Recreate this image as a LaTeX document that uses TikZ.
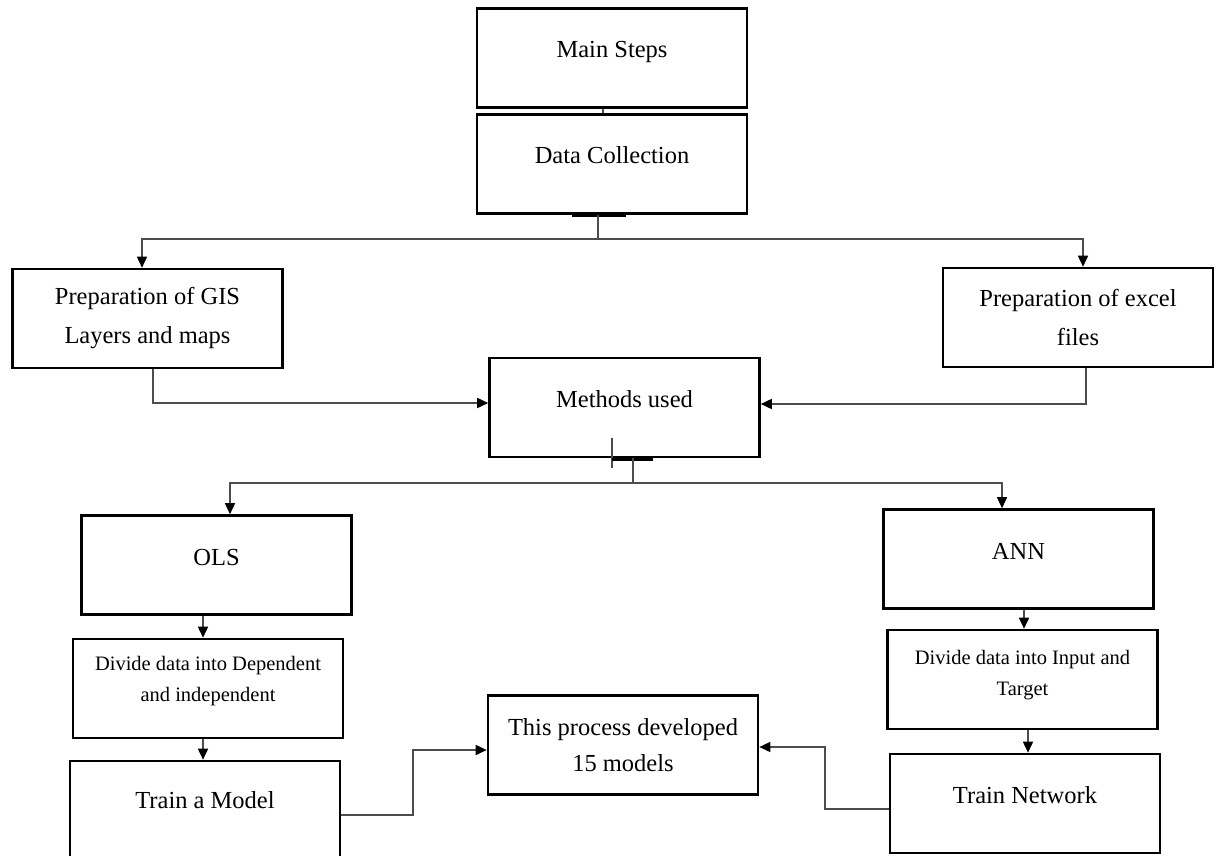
\documentclass[tikz,border=0pt]{standalone}
\usepackage{fontspec}
\setmainfont{Liberation Serif}
\usetikzlibrary{arrows.meta}
\begin{document}
\begin{tikzpicture}[x=0.5pt,y=-0.5pt,
  box/.style={draw=black, line width=1.3pt, minimum width=135pt, minimum height=49.5pt,
    inner sep=0pt, align=center, font=\fontsize{12.25}{19.5}\selectfont},
  oneline/.style={text height=9pt, text depth=9pt},
  small/.style={font=\fontsize{10.25}{15.5}\selectfont},
  conn/.style={draw=black!70, line width=0.8pt},
  arr/.style={conn, -{Triangle[length=5.5pt,width=5pt,color=black]}},
  tick/.style={draw=black, line width=1.4pt},
]
\useasboundingbox (0,0) rectangle (1218,855);
\fill[white] (0,0) rectangle (1218,855);

% boxes
\node[box,oneline] (ms) at (612,58) {Main Steps};
\node[box,oneline] (dc) at (612,164) {Data Collection};
\node[box] (gis) at (147.5,318.5) {Preparation of GIS\\Layers and maps};
\node[box] (xl) at (1078,317.5) {Preparation of excel\\files};
\node[box,oneline] (mu) at (624.5,407.5) {Methods used};
\node[box,oneline] (ols) at (216.5,565) {OLS};
\node[box,oneline] (ann) at (1018.5,559) {ANN};
\node[box,small,text depth=9.5pt] (dol) at (208,688.5) {Divide data into Dependent\\and independent};
\node[box,small,text depth=7pt] (dan) at (1022.5,679.5) {Divide data into Input and\\Target};
\node[box,oneline,text depth=11.5pt] (tam) at (205,810.5) {Train a Model};
\node[box,oneline] (tnw) at (1025,803.5) {Train Network};
\node[box,font=\fontsize{12.25}{18}\selectfont] (tp) at (623,745) {This process developed\\15 models};

% top connectors
\draw[conn] ([xshift=-4.5pt]ms.south) -- ([xshift=-4.5pt]dc.north);
\draw[tick] ([xshift=-20pt,yshift=-0.5pt]dc.south) -- ([xshift=7pt,yshift=-0.5pt]dc.south);
\coordinate (j1) at (598,239);
\draw[conn] ([xshift=-7pt]dc.south) -- (j1);
\draw[arr] (j1) -| ([xshift=-2.75pt]gis.north);
\draw[arr] (j1) -| ([xshift=2.5pt]xl.north);

% into methods used
\draw[arr] ([xshift=2.75pt]gis.south) |- ([yshift=2.25pt]mu.west);
\draw[arr] ([xshift=4pt]xl.south) |- ([yshift=1.75pt]mu.east);

% from methods used
\draw[conn, line width=0.6pt] ([xshift=-6.25pt,yshift=10pt]mu.south) -- ([xshift=-6.25pt,yshift=-5pt]mu.south);
\draw[tick] ([xshift=-6.25pt,yshift=-0.6pt]mu.south) -- ([xshift=14.25pt,yshift=-0.6pt]mu.south);
\coordinate (j2) at (633,483);
\draw[conn] ([xshift=4.25pt]mu.south) -- (j2);
\draw[arr] (j2) -| ([xshift=6.75pt]ols.north);
\draw[arr] (j2) -| ([xshift=-8.25pt]ann.north);

% columns
\coordinate (a1) at ([xshift=-6.75pt]ols.south);
\draw[arr] (a1) -- (a1 |- dol.north);
\coordinate (a2) at ([xshift=-2.5pt]dol.south);
\draw[arr] (a2) -- (a2 |- tam.north);
\coordinate (a3) at ([xshift=2.75pt]ann.south);
\draw[arr] (a3) -- (a3 |- dan.north);
\coordinate (a4) at ([xshift=2.75pt]dan.south);
\draw[arr] (a4) -- (a4 |- tnw.north);

% into result box
\coordinate (b1) at (413,780);
\draw[arr] ([yshift=-2.25pt]tam.east) -| (b1) |- ([yshift=-2.5pt]tp.west);
\coordinate (b2) at (825,780);
\draw[arr] ([yshift=-2.75pt]tnw.west) -| (b2) |- ([yshift=-1pt]tp.east);
\end{tikzpicture}
\end{document}
